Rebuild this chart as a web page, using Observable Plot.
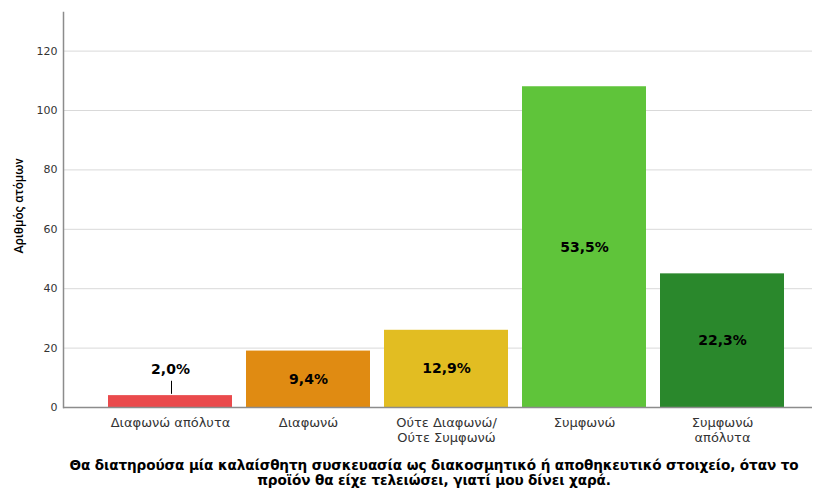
<!DOCTYPE html>
<html><head><meta charset="utf-8">
<script src="https://cdn.jsdelivr.net/npm/d3@7"></script>
<script src="https://cdn.jsdelivr.net/npm/@observablehq/plot@0.6"></script>
<style>
body{margin:0;background:#fff;font-family:"DejaVu Sans",sans-serif}
#title{box-sizing:border-box;width:818px;padding-left:50px;text-align:center;font-family:"DejaVu Sans",sans-serif;font-weight:bold;font-size:13.6px;line-height:15px;color:#000;margin-top:2px;letter-spacing:-0.1px}
</style></head>
<body>
<div id="chart"></div>
<div id="title">Θα διατηρούσα μία καλαίσθητη συσκευασία ως διακοσμητικό ή αποθηκευτικό στοιχείο, όταν το<br>προϊόν θα είχε τελειώσει, γιατί μου δίνει χαρά.</div>
<script>
const categories = ["Διαφωνώ απόλυτα", "Διαφωνώ", "Ούτε Διαφωνώ/\nΟύτε Συμφωνώ", "Συμφωνώ", "Συμφωνώ\nαπόλυτα"];
const counts = [4, 19, 26, 108, 45];
const percents = ["2,0%", "9,4%", "12,9%", "53,5%", "22,3%"];
const colors = ["#ea4a4c", "#e08b12", "#e2bd22", "#5fc43a", "#2a882c"];
const yTicks = [0, 20, 40, 60, 80, 100, 120];

const data = categories.map((c, i) => ({cat: c, count: counts[i], pct: percents[i], color: colors[i]}));
const inside = data.slice(1);
const small = data.slice(0, 1);

const plot = Plot.plot({
  width: 818,
  height: 456,
  marginLeft: 63,
  marginRight: 6,
  marginTop: 12,
  marginBottom: 49,
  style: {fontFamily: '"DejaVu Sans", sans-serif', background: "#fff"},
  x: {domain: categories, range: [101, 791], paddingInner: 0.1, paddingOuter: 0.05},
  y: {domain: [0, 133]},
  marks: [
    Plot.ruleY(yTicks.slice(1), {stroke: "#d9d9d9", strokeWidth: 1}),
    Plot.barY(data, {x: "cat", y: "count", fill: "color"}),
    Plot.text(inside, {x: "cat", y: d => d.count / 2, text: "pct", fontWeight: "bold", fontSize: 14, fill: "#000"}),
    Plot.text(small, {x: "cat", y: d => d.count + 8.8, text: "pct", fontWeight: "bold", fontSize: 14, fill: "#000"}),
    Plot.link(small, {x1: "cat", x2: "cat", y1: d => d.count + 5, y2: d => d.count + 0.6, dx: 1, stroke: "#000", strokeWidth: 1}),
    Plot.ruleY([0], {stroke: "#8c8c8c", strokeWidth: 1.5}),
    Plot.frame({anchor: "left", stroke: "#8c8c8c", strokeWidth: 1.5}),
    Plot.axisY(yTicks, {tickSize: 0, tickPadding: 6, fontSize: 11, fill: "#333", label: null}),
    Plot.axisX({tickSize: 0, tickPadding: 9, fontSize: 13, fill: "#333", label: null, lineHeight: 1.15}),
    Plot.text(["Αριθμός ατόμων"], {frameAnchor: "left", dx: -45, dy: -4, rotate: -90, textAnchor: "middle", fontFamily: 'Roboto, sans-serif', fontWeight: 500, fontSize: 12.5, fill: "#000"})
  ]
});
document.getElementById("chart").appendChild(plot);
</script>
</body></html>
